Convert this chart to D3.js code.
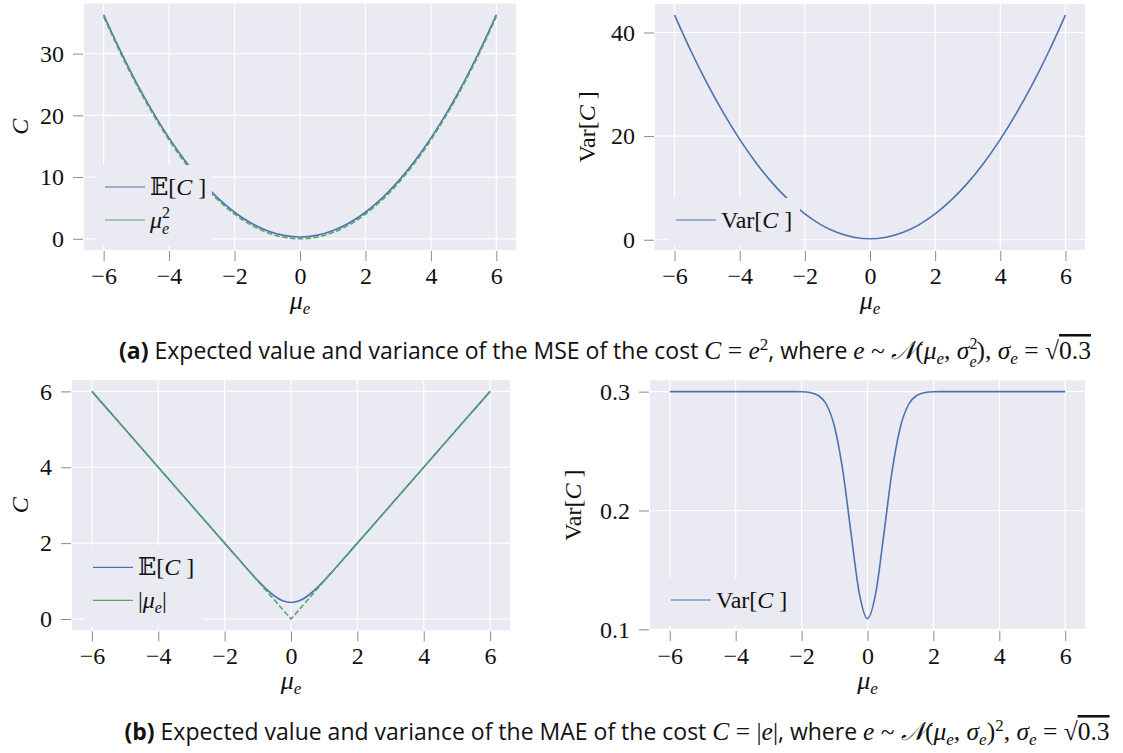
<!DOCTYPE html>
<html><head><meta charset="utf-8">
<script src="https://cdn.jsdelivr.net/npm/d3@7"></script>
<style>body{margin:0;background:#fff}</style>
</head><body><svg id="c" width="1123" height="753"></svg>
<script>
// ---- data ----
const muMSE = [-6,-5.5,-5,-4.5,-4,-3.5,-3,-2.5,-2,-1.5,-1,-0.5,0,0.5,1,1.5,2,2.5,3,3.5,4,4.5,5,5.5,6];
const mseMean = [36.3,30.55,25.3,20.55,16.3,12.55,9.3,6.55,4.3,2.55,1.3,0.55,0.3,0.55,1.3,2.55,4.3,6.55,9.3,12.55,16.3,20.55,25.3,30.55,36.3];
const mseSquare = [36,30.25,25,20.25,16,12.25,9,6.25,4,2.25,1,0.25,0,0.25,1,2.25,4,6.25,9,12.25,16,20.25,25,30.25,36];
const mseVar = [43.38,36.48,30.18,24.48,19.38,14.88,10.98,7.68,4.98,2.88,1.38,0.48,0.18,0.48,1.38,2.88,4.98,7.68,10.98,14.88,19.38,24.48,30.18,36.48,43.38];

const muMAE = [-6,-5.75,-5.5,-5.25,-5,-4.75,-4.5,-4.25,-4,-3.75,-3.5,-3.25,-3,-2.75,-2.5,-2.25,-2,-1.75,-1.5,-1.25,-1,-0.75,-0.5,-0.25,0,0.25,0.5,0.75,1,1.25,1.5,1.75,2,2.25,2.5,2.75,3,3.25,3.5,3.75,4,4.25,4.5,4.75,5,5.25,5.5,5.75,6];
const maeMean = [6,5.75,5.5,5.25,5,4.75,4.5,4.25,4,3.75,3.5,3.25,3,2.75,2.5,2.25,2.0,1.7502,1.501,1.2542,1.0147,0.793,0.6074,0.4818,0.437,0.4818,0.6074,0.793,1.0147,1.2542,1.501,1.7502,2.0,2.25,2.5,2.75,3,3.25,3.5,3.75,4,4.25,4.5,4.75,5,5.25,5.5,5.75,6];
const maeAbs = [6,5.75,5.5,5.25,5,4.75,4.5,4.25,4,3.75,3.5,3.25,3,2.75,2.5,2.25,2,1.75,1.5,1.25,1,0.75,0.5,0.25,0,0.25,0.5,0.75,1,1.25,1.5,1.75,2,2.25,2.5,2.75,3,3.25,3.5,3.75,4,4.25,4.5,4.75,5,5.25,5.5,5.75,6];
const maeVar = [0.3,0.3,0.3,0.3,0.3,0.3,0.3,0.3,0.3,0.3,0.3,0.3,0.3,0.3,0.3,0.3,0.2999,0.2993,0.2969,0.2894,0.2705,0.2337,0.181,0.1304,0.109,0.1304,0.181,0.2337,0.2705,0.2894,0.2969,0.2993,0.2999,0.3,0.3,0.3,0.3,0.3,0.3,0.3,0.3,0.3,0.3,0.3,0.3,0.3,0.3,0.3,0.3];

const xTicks = [-6,-4,-2,0,2,4,6];
const yTicksA = [0,10,20,30];
const yTicksB = [0,20,40];
const yTicksC = [0,2,4,6];
const yTicksD = [0.1,0.2,0.3];

// ---- style ----
const SERIF = "'Liberation Serif','DejaVu Serif',serif";
const SANS = "'Open Sans','Noto Sans',sans-serif";
const BLUE = '#4C72B0', GREEN = '#55A868', BG = '#EAEAF2';
const FS = 24;
const svg = d3.select('#c');

function addParts(textSel, parts) {
  parts.forEach(p => {
    const t = textSel.append('tspan').text(p.t);
    t.attr('font-family', p.sans ? SANS : SERIF);
    if (p.i) t.attr('font-style', 'italic');
    if (p.b) t.attr('font-weight', 'bold');
    if (p.fs) t.attr('font-size', p.fs);
    if (p.dy != null) t.attr('dy', p.dy);
    if (p.dx != null) t.attr('dx', p.dx);
    if (p.deco) t.attr('text-decoration', p.deco);
  });
}

const muLabel = [{t:'μ', i:true, fs:26}, {t:'e', i:true, fs:17, dy:5}];
const CLabel = [{t:'C', i:true}];
const VarLabel = [{t:'Var['}, {t:'C', i:true}, {t:' ]'}];
const ELabel = [{t:'𝔼['}, {t:'C', i:true}, {t:' ]'}];
const sqLabel = [{t:'μ', i:true}, {t:'2', fs:16, dy:-10}, {t:'e', i:true, fs:16, dx:-8, dy:16}];
const absLabel = [{t:'|'}, {t:'μ', i:true}, {t:'e', i:true, fs:16, dy:5}, {t:'|', dy:-5}];

function panel(cfg) {
  const g = svg.append('g');
  const allX = cfg.series.flatMap(s => s.x);
  const allY = cfg.series.flatMap(s => s.y);
  const [x0, x1] = d3.extent(allX), [y0, y1] = d3.extent(allY);
  const px = (x1 - x0) * 0.05, py = (y1 - y0) * 0.05;
  const x = d3.scaleLinear().domain([x0 - px, x1 + px]).range([cfg.left, cfg.right]);
  const y = d3.scaleLinear().domain([y0 - py, y1 + py]).range([cfg.bottom, cfg.top]);

  g.append('rect').attr('x', cfg.left).attr('y', cfg.top)
    .attr('width', cfg.right - cfg.left).attr('height', cfg.bottom - cfg.top).attr('fill', BG);

  g.selectAll('.gx').data(xTicks).join('line')
    .attr('x1', d => x(d)).attr('x2', d => x(d)).attr('y1', cfg.top).attr('y2', cfg.bottom)
    .attr('stroke', '#fff').attr('stroke-width', 1.2);
  g.selectAll('.gy').data(cfg.yTicks).join('line')
    .attr('y1', d => y(d)).attr('y2', d => y(d)).attr('x1', cfg.left).attr('x2', cfg.right)
    .attr('stroke', '#fff').attr('stroke-width', 1.2);

  const xa = d3.axisBottom(x).tickValues(xTicks).tickSize(10).tickPadding(6)
    .tickFormat(d => d3.format('d')(d).replace('-', '−'));
  const xg = g.append('g').attr('transform', `translate(0,${cfg.bottom + 1})`).call(xa);
  const ya = d3.axisLeft(y).tickValues(cfg.yTicks).tickSize(10).tickPadding(9)
    .tickFormat(cfg.yFmt);
  const yg = g.append('g').attr('transform', `translate(${cfg.left - 1},0)`).call(ya);
  [xg, yg].forEach(a => {
    a.select('.domain').remove();
    a.selectAll('.tick line').attr('stroke', '#8a8a8a').attr('stroke-width', 1);
    a.selectAll('.tick text').attr('font-family', SERIF).attr('font-size', FS).attr('fill', '#111');
  });

  cfg.series.forEach(s => {
    const pts = s.x.map((v, i) => [v, s.y[i]]);
    const line = d3.line().x(d => x(d[0])).y(d => y(d[1])).curve(s.curve || d3.curveMonotoneX);
    g.append('path').attr('d', line(pts)).attr('fill', 'none').attr('stroke', s.color)
      .attr('stroke-width', 1.6).attr('stroke-dasharray', s.dash || null);
  });

  const xl = g.append('text').attr('x', (cfg.left + cfg.right) / 2).attr('y', cfg.bottom + 59)
    .attr('text-anchor', 'middle').attr('font-size', FS).attr('fill', '#111');
  addParts(xl, muLabel);
  const cy = (cfg.top + cfg.bottom) / 2;
  const yl = g.append('text').attr('transform', `translate(${cfg.ylabelX},${cy}) rotate(-90)`)
    .attr('text-anchor', 'middle').attr('dy', '0.35em').attr('font-size', FS).attr('fill', '#111');
  addParts(yl, cfg.ylabel);

  const L = cfg.legend;
  const bx = cfg.left + 13, bb = cfg.bottom - 4;
  const n = L.entries.length;
  const lastC = bb - 26, firstC = lastC - 33 * (n - 1);
  g.append('rect').attr('x', bx).attr('y', firstC - 22).attr('width', L.width)
    .attr('height', bb - (firstC - 22)).attr('fill', BG);
  L.entries.forEach((e, i) => {
    const cyE = firstC + 33 * i;
    g.append('line').attr('x1', bx + 8).attr('x2', bx + 48).attr('y1', cyE).attr('y2', cyE)
      .attr('stroke', e.color).attr('stroke-width', 1.1);
    const t = g.append('text').attr('x', bx + 53).attr('y', cyE + 8)
      .attr('font-size', FS).attr('fill', '#111');
    addParts(t, e.label);
  });
}

const yFmtInt = d => d3.format('d')(d);
const yFmt1 = d => d3.format('.1f')(d);

panel({left:84, right:516, top:3.5, bottom:250, yTicks:yTicksA, yFmt:yFmtInt, ylabel:CLabel, ylabelX:20,
  series:[{x:muMSE, y:mseMean, color:BLUE}, {x:muMSE, y:mseSquare, color:GREEN, dash:'5.5,2.4'}],
  legend:{width:115, entries:[{color:BLUE, label:ELabel}, {color:GREEN, label:sqLabel}]}});
panel({left:655, right:1085, top:3.8, bottom:250, yTicks:yTicksB, yFmt:yFmtInt, ylabel:VarLabel, ylabelX:587,
  series:[{x:muMSE, y:mseVar, color:BLUE}],
  legend:{width:132, entries:[{color:BLUE, label:VarLabel}]}});
panel({left:72, right:510, top:380, bottom:630.4, yTicks:yTicksC, yFmt:yFmtInt, ylabel:CLabel, ylabelX:20,
  series:[{x:muMAE, y:maeMean, color:BLUE}, {x:muMAE, y:maeAbs, color:GREEN, dash:'5.5,2.4', curve:d3.curveLinear}],
  legend:{width:117, entries:[{color:BLUE, label:ELabel}, {color:GREEN, label:absLabel}]}});
panel({left:650, right:1085, top:380.3, bottom:630, yTicks:yTicksD, yFmt:yFmt1, ylabel:VarLabel, ylabelX:573,
  series:[{x:muMAE, y:maeVar, color:BLUE}],
  legend:{width:124, entries:[{color:BLUE, label:VarLabel}]}});

// captions
const CFS = 23, MFS = 25.5, SFS = 17, SS = 16;
const capA = [
  {t:'(a)', sans:true, b:true}, {t:' Expected value and variance of the MSE of the cost ', sans:true},
  {t:'C', i:true, fs:MFS}, {t:' = ', fs:MFS}, {t:'e', i:true, fs:MFS}, {t:'2', fs:SFS, dy:-9},
  {t:', where ', sans:true, dy:9}, {t:'e', i:true, fs:MFS}, {t:' ~ ', fs:MFS}, {t:'𝒩', i:true, fs:MFS},
  {t:'(', fs:MFS}, {t:'μ', i:true, fs:MFS}, {t:'e', i:true, fs:SFS, dy:5}, {t:', ', fs:MFS, dy:-5},
  {t:'σ', i:true, fs:MFS}, {t:'2', fs:SS, dy:-10}, {t:'e', i:true, fs:SS, dx:-8, dy:18},
  {t:'), ', fs:MFS, dy:-8}, {t:'σ', i:true, fs:MFS}, {t:'e', i:true, fs:SFS, dy:5},
  {t:' = √', fs:MFS, dy:-5}, {t:'0.3', fs:MFS, deco:'overline'}
];
const capB = [
  {t:'(b)', sans:true, b:true}, {t:' Expected value and variance of the MAE of the cost ', sans:true},
  {t:'C', i:true, fs:MFS}, {t:' = |', fs:MFS}, {t:'e', i:true, fs:MFS}, {t:'|', fs:MFS},
  {t:', where ', sans:true}, {t:'e', i:true, fs:MFS}, {t:' ~ ', fs:MFS}, {t:'𝒩', i:true, fs:MFS},
  {t:'(', fs:MFS}, {t:'μ', i:true, fs:MFS}, {t:'e', i:true, fs:SFS, dy:5}, {t:', ', fs:MFS, dy:-5},
  {t:'σ', i:true, fs:MFS}, {t:'e', i:true, fs:SFS, dy:5}, {t:')', fs:MFS, dy:-5}, {t:'2', fs:SFS, dy:-9},
  {t:', ', fs:MFS, dy:9}, {t:'σ', i:true, fs:MFS}, {t:'e', i:true, fs:SFS, dy:5},
  {t:' = √', fs:MFS, dy:-5}, {t:'0.3', fs:MFS, deco:'overline'}
];
[[capA, 359, 605], [capB, 740, 617]].forEach(([parts, yy, xx]) => {
  const t = svg.append('text').attr('x', xx).attr('y', yy).attr('text-anchor', 'middle')
    .attr('font-size', CFS).attr('fill', '#111');
  addParts(t, parts);
});
</script></body></html>
